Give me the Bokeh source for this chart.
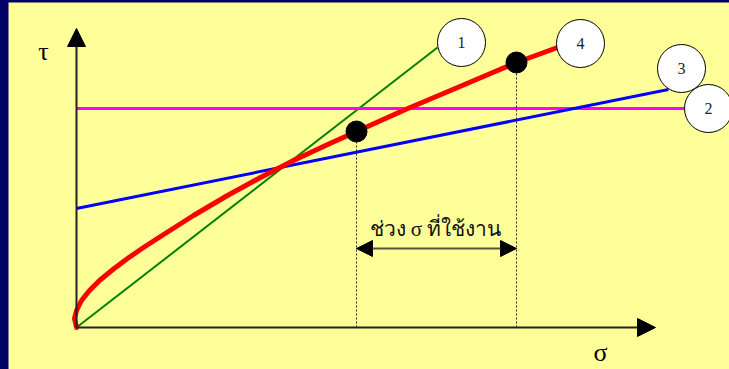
from bokeh.plotting import figure
from bokeh.models import Range1d, Arrow, NormalHead, ColumnDataSource
from bokeh.core.properties import value
from bokeh.embed import file_html
from bokeh.resources import INLINE

# ---- data (sigma, tau in chart units) ----
axis_x_end = 57.9
axis_y_end = 29.9

line1_sigma = [0.0, 36.1]
line1_tau = [0.0, 28.0]

line2_sigma = [0.0, 61.0]
line2_tau = [21.9, 21.9]

line3_sigma = [0.0, 59.2]
line3_tau = [11.9, 23.8]

curve4_sigma = [0.0, -0.2, 0.0, 0.5, 1.3, 2.3, 3.7, 5.1, 6.7, 8.4, 11.7, 15.1,
                18.4, 21.7, 24.9, 28.0, 32.9, 37.4, 41.4, 44.0, 48.1]
curve4_tau = [0.0, 0.9, 1.7, 2.7, 3.7, 4.7, 5.85, 6.9, 8.0, 9.1, 11.2, 13.2,
              15.0, 16.7, 18.2, 19.6, 21.8, 23.7, 25.4, 26.5, 28.0]

dot_sigma = [28.0, 44.0]
dot_tau = [19.6, 26.5]

range_tau = 7.9
range_label = "ช่วง σ ที่ใช้งาน"
range_label_pos = (35.9, 9.9)

badge_labels = ["1", "4", "3", "2"]
badge_sigma = [38.5, 50.4, 60.5, 63.2]
badge_tau = [28.5, 28.4, 25.9, 21.9]

axis_labels = ["τ", "σ"]
axis_label_sigma = [-3.3, 52.4]
axis_label_tau = [27.6, -2.5]

BG = "#FFFF99"
NAVY = "#000066"

p = figure(width=721, height=367, output_backend="svg", toolbar_location=None,
           x_range=Range1d(-6.8, 65.3), y_range=Range1d(-4.2, 32.5),
           min_border=0, background_fill_color=BG, border_fill_color=BG,
           outline_line_color=None)
p.axis.visible = False
p.grid.visible = False

# axes with arrowheads
p.add_layout(Arrow(end=NormalHead(size=18, fill_color="black", line_color="black"),
                   x_start=0, y_start=0, x_end=axis_x_end, y_end=0,
                   line_width=2, line_color="#222222"))
p.add_layout(Arrow(end=NormalHead(size=18, fill_color="black", line_color="black"),
                   x_start=0, y_start=0, x_end=0, y_end=axis_y_end,
                   line_width=2, line_color="#222222"))

# lines
p.line(line1_sigma, line1_tau, line_color="#008000", line_width=2)
p.line(line2_sigma, line2_tau, line_color="#FF00FF", line_width=3)
p.line(line3_sigma, line3_tau, line_color="#0000FF", line_width=3)

# dotted verticals from the dots
for s, t in zip(dot_sigma, dot_tau):
    p.line([s, s], [0, t], line_color="#222222", line_width=1, line_dash="2 2")

p.line(curve4_sigma, curve4_tau, line_color="#FF0000", line_width=5,
       line_cap="round", line_join="round")

p.scatter(dot_sigma, dot_tau, size=21, fill_color="black", line_color="black")

# working range double arrow
p.add_layout(Arrow(start=NormalHead(size=16, fill_color="black", line_color="black"),
                   end=NormalHead(size=16, fill_color="black", line_color="black"),
                   x_start=dot_sigma[0], y_start=range_tau,
                   x_end=dot_sigma[1], y_end=range_tau,
                   line_width=2, line_color="#555533"))
p.text([range_label_pos[0]], [range_label_pos[1]], text=[range_label],
       text_font=value("Liberation Serif"), text_font_size="21px",
       text_align="center", text_baseline="alphabetic", text_color="#111111")

# numbered badges
src = ColumnDataSource(dict(x=badge_sigma, y=badge_tau, t=badge_labels))
p.scatter("x", "y", source=src, size=48, fill_color="white", line_color="black",
          line_width=1)
p.text("x", "y", text="t", source=src, text_font=value("Liberation Serif"),
       text_font_size="16px", text_align="center", text_baseline="middle",
       text_color="#222222")

# axis labels
p.text(axis_label_sigma, axis_label_tau, text=axis_labels,
       text_font=value("Liberation Serif"), text_font_size="26px",
       text_align="center", text_baseline="middle", text_color="black")

html = file_html(p, INLINE)
css = ("<style>html,body{overflow:hidden !important;}"
       "body{box-sizing:border-box !important;margin:0 !important;"
       "padding:2px 0 0 8px !important;background:" + NAVY + " !important;}</style>")
html = html.replace("</head>", css + "</head>", 1)
open("out.html", "w").write(html)
